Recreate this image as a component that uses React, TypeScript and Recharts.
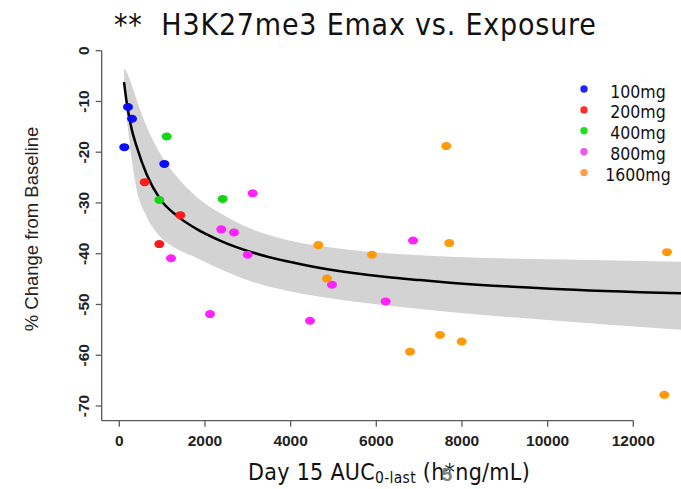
import React from 'react';
import { ComposedChart, Area, Line, Scatter, XAxis, YAxis, ReferenceLine } from 'recharts';

// exposure (AUC) and % change, one pair of arrays per dose group
const doseLabels = ['100mg', '200mg', '400mg', '800mg', '1600mg'];
const doseColors = ['#0a0aff', '#ff1a1a', '#14d414', '#ff22ff', '#ff9a0a'];
const legendColors = ['#2424ff', '#ff2a2a', '#22dd22', '#ee55ee', '#ff9a4a'];

const auc100 = [203, 297, 117, 1051];
const chg100 = [-11.1, -13.4, -19.0, -22.3];
const auc200 = [593, 1424, 934];
const chg200 = [-25.9, -32.4, -38.1];
const auc400 = [1107, 934, 2414];
const chg400 = [-16.9, -29.4, -29.2];
const auc800 = [3114, 2381, 2678, 2998, 1207, 2118, 4452, 4966, 6219, 6857];
const chg800 = [-28.1, -35.2, -35.8, -40.2, -40.9, -51.9, -53.2, -46.1, -49.4, -37.4];
const auc1600 = [4646, 5900, 4849, 7634, 7704, 12787, 7487, 7994, 12724, 6787];
const chg1600 = [-38.3, -40.2, -44.9, -18.8, -37.9, -39.7, -56.0, -57.3, -67.8, -59.3];

// Emax fit and its band
const fitX = [110, 173, 290, 406, 640, 950, 1340, 1800, 2350, 3130, 3910, 4690, 5460, 6240, 7020, 7720, 10060, 13114];
const fitY = [-6.2, -10.2, -15.5, -18.9, -24.4, -29.2, -32.5, -35.1, -37.4, -39.8, -41.5, -42.8, -43.8, -44.6, -45.2, -45.7, -46.9, -47.8];
const bandLow = [-7.5, -13.0, -21.5, -27.4, -32.7, -36.6, -39.0, -40.8, -43.0, -45.6, -47.3, -48.5, -49.4, -50.2, -50.9, -51.5, -53.1, -55.0];
const bandHigh = [-3.5, -4.2, -6.8, -9.7, -15.0, -20.2, -24.8, -28.8, -32.0, -35.3, -37.3, -38.5, -39.3, -39.9, -40.3, -40.6, -41.1, -41.6];

const xTicks = [0, 2000, 4000, 6000, 8000, 10000, 12000];
const yTicks = [0, -10, -20, -30, -40, -50, -60, -70];

const groups = [
  [auc100, chg100],
  [auc200, chg200],
  [auc400, chg400],
  [auc800, chg800],
  [auc1600, chg1600],
].map(([xs, ys]) => xs.map((x, i) => ({ x, y: ys[i] })));

const curve = fitX.map((x, i) => ({ x, fit: fitY[i], band: [bandLow[i], bandHigh[i]] }));

const SANS = '"DejaVu Sans", sans-serif';
const ARIAL = '"Liberation Sans", Arial, sans-serif';
const AXIS = '#5a5a5a';

const YTick = (props: any) => {
  const { x, y, payload } = props;
  return (
    <text
      transform={`translate(${x},${y}) rotate(-90)`}
      textAnchor="middle"
      fontFamily={ARIAL}
      fontWeight="bold"
      fontSize={15.5}
      fill="#222"
    >
      {payload.value}
    </text>
  );
};

export default function App() {
  return (
    <div style={{ position: 'absolute', left: 0, top: 0, width: 681, height: 489, background: '#fff' }}>
      <ComposedChart
        width={681}
        height={489}
        data={curve}
        margin={{ top: 50.7, right: 0, bottom: 38.3, left: 41.7 }}
      >
        <XAxis
          type="number"
          dataKey="x"
          domain={[-411, 13114]}
          ticks={xTicks}
          allowDataOverflow
          axisLine={false}
          tickLine={{ stroke: AXIS, strokeWidth: 1.3 }}
          tickSize={6}
          tickMargin={8}
          height={30}
          tick={{ fontFamily: ARIAL, fontWeight: 'bold', fontSize: 15.5, fill: '#222' }}
        />
        <YAxis
          type="number"
          domain={[-72.9, 0]}
          ticks={yTicks}
          allowDataOverflow
          width={60}
          axisLine={{ stroke: AXIS, strokeWidth: 1.3 }}
          tickLine={{ stroke: AXIS, strokeWidth: 1.3 }}
          tickSize={6}
          tickMargin={7}
          tick={<YTick />}
        />
        <Area
          dataKey="band"
          type="monotone"
          stroke="none"
          fill="#d3d3d3"
          fillOpacity={1}
          isAnimationActive={false}
        />
        <Line
          dataKey="fit"
          type="monotone"
          stroke="#000"
          strokeWidth={2.5}
          dot={false}
          isAnimationActive={false}
        />
        {groups.map((pts, gi) => (
          <Scatter
            key={doseLabels[gi]}
            data={pts}
            dataKey="y"
            isAnimationActive={false}
            shape={(p: any) => <ellipse cx={p.cx} cy={p.cy} rx={5} ry={4} fill={doseColors[gi]} />}
          />
        ))}
        <ReferenceLine
          segment={[{ x: -411, y: -72.9 }, { x: 12000, y: -72.9 }]}
          stroke={AXIS}
          strokeWidth={1.3}
          ifOverflow="visible"
        />
      </ComposedChart>
      <svg
        width={681}
        height={489}
        style={{ position: 'absolute', left: 0, top: 0, pointerEvents: 'none' }}
      >
        <text
          x={114}
          y={35}
          fontFamily={SANS}
          fontSize={30}
          letterSpacing={0.8}
          fill="#111"
          style={{ fontStretch: 'condensed', whiteSpace: 'pre' }}
        >
          {'**  H3K27me3 Emax vs. Exposure'}
        </text>
        <text
          transform="translate(38,229) rotate(-90)"
          textAnchor="middle"
          fontFamily={ARIAL}
          fontSize={18.5}
          fill="#222"
        >
          % Change from Baseline
        </text>
        <text
          x={248}
          y={480}
          fontFamily={SANS}
          fontSize={23}
          letterSpacing={0.3}
          fill="#111"
          style={{ fontStretch: 'condensed' }}
        >
          Day 15 AUC
          <tspan fontSize={15.5} dy={3}>0-last</tspan>
          <tspan dy={-3}> (h*ng/mL)</tspan>
        </text>
        <text x={447} y={481} textAnchor="middle" fontFamily={ARIAL} fontWeight="bold" fontSize={19} fill="#808080">
          5
        </text>
        {doseLabels.map((d, i) => (
          <g key={d}>
            <circle cx={584} cy={89 + i * 20.9} r={3.7} fill={legendColors[i]} />
            <text
              x={638}
              y={97.5 + i * 20.9}
              textAnchor="middle"
              fontFamily={SANS}
              fontSize={17.5}
              fill="#111"
              style={{ fontStretch: 'condensed' }}
            >
              {d}
            </text>
          </g>
        ))}
      </svg>
    </div>
  );
}
